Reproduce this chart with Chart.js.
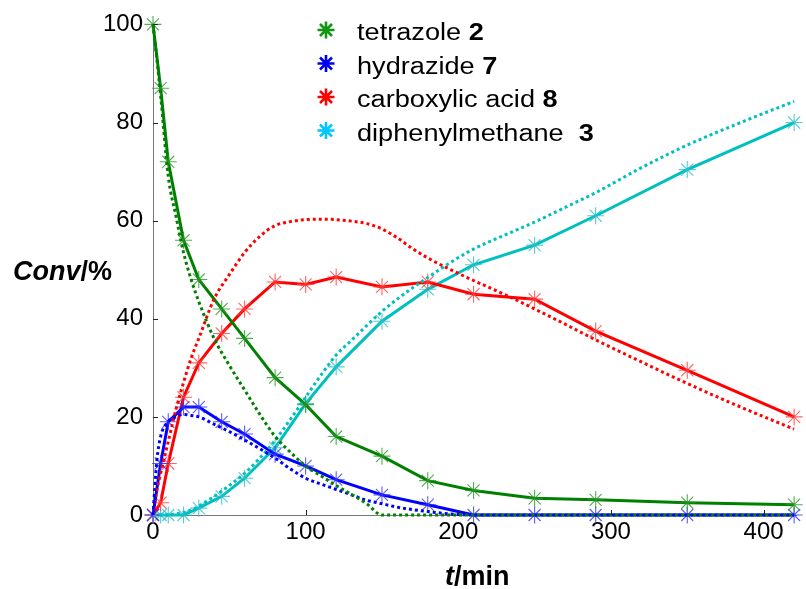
<!DOCTYPE html>
<html>
<head>
<meta charset="utf-8">
<script src="https://cdn.jsdelivr.net/npm/chart.js@4/dist/chart.umd.min.js"></script>
<style>
    html, body { margin: 0; padding: 0; background: #fff; }
    #wrap { width: 806px; height: 589px; position: relative; }
</style>
</head>
<body>
<div id="wrap"><canvas id="chart-conv"></canvas></div>
<script>
// Sampling times (min) and measured conversions (%)
const times = [0, 5, 10, 20, 30, 45, 60, 80, 100, 120, 150, 180, 210, 250, 290, 350, 420];
const tetrazole = [100, 87, 72, 56, 48, 42, 36, 28, 22.5, 16, 12, 7, 5, 3.4, 3.1, 2.5, 2.1];
const hydrazide = [0, 10.5, 19, 22, 22, 19, 16.5, 12.4, 10, 7.2, 4.1, 2.1, 0, 0, 0, 0, 0];
const carboxylicAcid = [0, 2.5, 10.5, 24, 31, 37, 42, 47.5, 47, 48.5, 46.5, 47.5, 45, 44, 37.5, 29.5, 20];
const diphenylmethane = [0, 0, 0, 0, 1.4, 3.8, 7.5, 13.7, 22.7, 30.2, 39.5, 46, 51, 55, 61, 70.4, 80];

// Kinetic model curves
const fitTimes = [0, 2.5, 5, 10, 15, 20, 25, 30, 40, 50, 60, 70, 80, 90, 100, 110, 120, 130, 140, 150,
    160, 170, 180, 195, 210, 230, 250, 270, 290, 320, 350, 385, 420];
const tetrazoleFit = [100, 93, 85.5, 69, 61, 53.5, 48, 43.5, 36, 30.5, 25.5, 20.5, 16, 12.8, 10, 8, 6, 4.2, 2.3, 0,
    0, 0, 0, 0, 0, 0, 0, 0, 0, 0, 0, 0, 0];
const hydrazideFit = [0, 11, 16, 19, 20, 20.5, 20.3, 20, 18.5, 17, 15.3, 13.5, 11.6, 9.4, 7.5, 6.3, 5.2, 4.1, 3, 2.3,
    1.6, 1.1, 0.7, 0.2, 0, 0, 0, 0, 0, 0, 0, 0, 0];
const carboxylicAcidFit = [0, 5, 8.5, 15, 21.5, 27, 32, 36, 44, 49, 53.5, 56.8, 59, 59.8, 60.2, 60.3, 60.2, 59.9, 59.4, 58.3,
    56.5, 54.3, 52.4, 50, 47.8, 45, 42, 38.9, 35.7, 31.2, 26.8, 22, 17.5];
const diphenylmethaneFit = [0, 0, 0, 0, 0.2, 0.5, 1, 1.8, 3.8, 6, 8.5, 11.6, 15.2, 19.5, 24, 28.5, 32.6, 35.6, 38.6, 41.5,
    44, 46.3, 48.4, 51.5, 54.2, 57, 59.7, 62.7, 65.7, 70.8, 75.4, 80, 84.3];

const xTickValues = [0, 100, 200, 300, 400];
const yTickValues = [0, 20, 40, 60, 80, 100];

const legendNames = ['tetrazole', 'hydrazide', 'carboxylic acid', 'diphenylmethane '];
const legendNumbers = ['2', '7', '8', '3'];
const legendColors = ['#119611', '#0000f0', '#ff0000', '#00c8ff'];

const FONT = '"Liberation Sans", Arial, sans-serif';

function points(xs, ys) {
    return xs.map((t, i) => ({ x: t, y: ys[i] }));
}

function measuredSet(label, ys, line, marker) {
    return {
        label: label,
        data: points(times, ys),
        borderColor: line,
        borderWidth: 3,
        tension: 0,
        pointStyle: 'star',
        pointRadius: 8.5,
        pointBorderWidth: 1.1,
        pointBorderColor: marker,
        pointBackgroundColor: marker,
        clip: false
    };
}

function fitSet(label, ys, line) {
    return {
        label: label,
        data: points(fitTimes, ys),
        borderColor: line,
        borderWidth: 3,
        borderDash: [3, 3],
        cubicInterpolationMode: 'monotone',
        pointRadius: 0,
        clip: false
    };
}

// draw a run of differently styled text pieces, optionally stretched
function drawRuns(ctx, runs, x, y, stretch) {
    ctx.save();
    ctx.translate(x, y);
    ctx.scale(stretch, 1);
    ctx.textBaseline = 'alphabetic';
    ctx.textAlign = 'left';
    ctx.fillStyle = '#000';
    let cx = 0;
    runs.forEach(r => {
        ctx.font = r.font;
        ctx.fillText(r.text, cx, 0);
        cx += ctx.measureText(r.text).width;
    });
    ctx.restore();
}

function drawAsterisk(ctx, cx, cy, r, color) {
    ctx.save();
    ctx.strokeStyle = color;
    ctx.lineWidth = 2.6;
    ctx.beginPath();
    for (let k = 0; k < 4; k++) {
        const a = k * Math.PI / 4;
        ctx.moveTo(cx - r * Math.cos(a), cy - r * Math.sin(a));
        ctx.lineTo(cx + r * Math.cos(a), cy + r * Math.sin(a));
    }
    ctx.stroke();
    ctx.restore();
}

const overlay = {
    id: 'overlay',
    afterDraw(chart) {
        const ctx = chart.ctx;
        const xs = chart.scales.x;
        const ys = chart.scales.y;

        // inward tick marks
        ctx.save();
        ctx.strokeStyle = '#222';
        ctx.lineWidth = 1;
        yTickValues.forEach(v => {
            if (v === 0) return;
            const py = Math.round(ys.getPixelForValue(v)) + 0.5;
            ctx.beginPath();
            ctx.moveTo(xs.left, py);
            ctx.lineTo(xs.left + 5, py);
            ctx.stroke();
        });
        xTickValues.forEach(v => {
            if (v === 0) return;
            const px = Math.round(xs.getPixelForValue(v)) + 0.5;
            ctx.beginPath();
            ctx.moveTo(px, ys.bottom);
            ctx.lineTo(px, ys.bottom - 5);
            ctx.stroke();
        });
        ctx.restore();

        // axis titles
        drawRuns(ctx, [
            { text: 'Conv', font: 'italic bold 27px ' + FONT },
            { text: '/%', font: 'bold 27px ' + FONT }
        ], 13, 280, 1);
        drawRuns(ctx, [
            { text: 't', font: 'italic bold 27px ' + FONT },
            { text: '/min', font: 'bold 27px ' + FONT }
        ], 445, 585, 1);

        // legend
        legendNames.forEach((name, i) => {
            const cy = 30 + i * 33.5;
            drawAsterisk(ctx, 326, cy, 8.5, legendColors[i]);
            drawRuns(ctx, [
                { text: name + ' ', font: '23px ' + FONT },
                { text: legendNumbers[i], font: 'bold 23px ' + FONT }
            ], 357, cy + 10, 1.18);
        });
    }
};

Chart.defaults.font.family = FONT;
Chart.defaults.color = '#000';

const ctx = document.getElementById('chart-conv').getContext('2d');
new Chart(ctx, {
    type: 'line',
    data: {
        datasets: [
            fitSet('tetrazole fit', tetrazoleFit, '#008000'),
            fitSet('hydrazide fit', hydrazideFit, '#0000ff'),
            fitSet('carboxylic acid fit', carboxylicAcidFit, '#ff0000'),
            fitSet('diphenylmethane fit', diphenylmethaneFit, '#00bfbf'),
            measuredSet('tetrazole 2', tetrazole, '#008000', 'rgba(40,150,40,0.8)'),
            measuredSet('hydrazide 7', hydrazide, '#0000ff', 'rgba(50,50,255,0.8)'),
            measuredSet('carboxylic acid 8', carboxylicAcid, '#ff0000', 'rgba(255,60,60,0.8)'),
            measuredSet('diphenylmethane 3', diphenylmethane, '#00bfbf', 'rgba(40,190,200,0.8)')
        ]
    },
    options: {
        responsive: true,
        maintainAspectRatio: false,
        animation: false,
        layout: { padding: { top: 24, right: 0, bottom: 0, left: 0 } },
        plugins: {
            legend: { display: false },
            tooltip: { enabled: false }
        },
        scales: {
            x: {
                type: 'linear',
                min: 0,
                max: 421.5,
                afterBuildTicks: scale => { scale.ticks = xTickValues.map(v => ({ value: v })); },
                afterFit: scale => { scale.height = 74; },
                grid: { drawOnChartArea: false, drawTicks: false },
                border: { display: true, color: '#777', width: 1 },
                ticks: { font: { size: 24 }, padding: 3, color: '#000', maxRotation: 0 }
            },
            y: {
                type: 'linear',
                min: 0,
                max: 100,
                afterBuildTicks: scale => { scale.ticks = yTickValues.map(v => ({ value: v })); },
                afterFit: scale => { scale.width = 153; },
                grid: { drawOnChartArea: false, drawTicks: false },
                border: { display: true, color: '#777', width: 1 },
                ticks: { font: { size: 24 }, padding: 10, color: '#000' }
            }
        }
    },
    plugins: [overlay]
});
</script>
</body>
</html>
